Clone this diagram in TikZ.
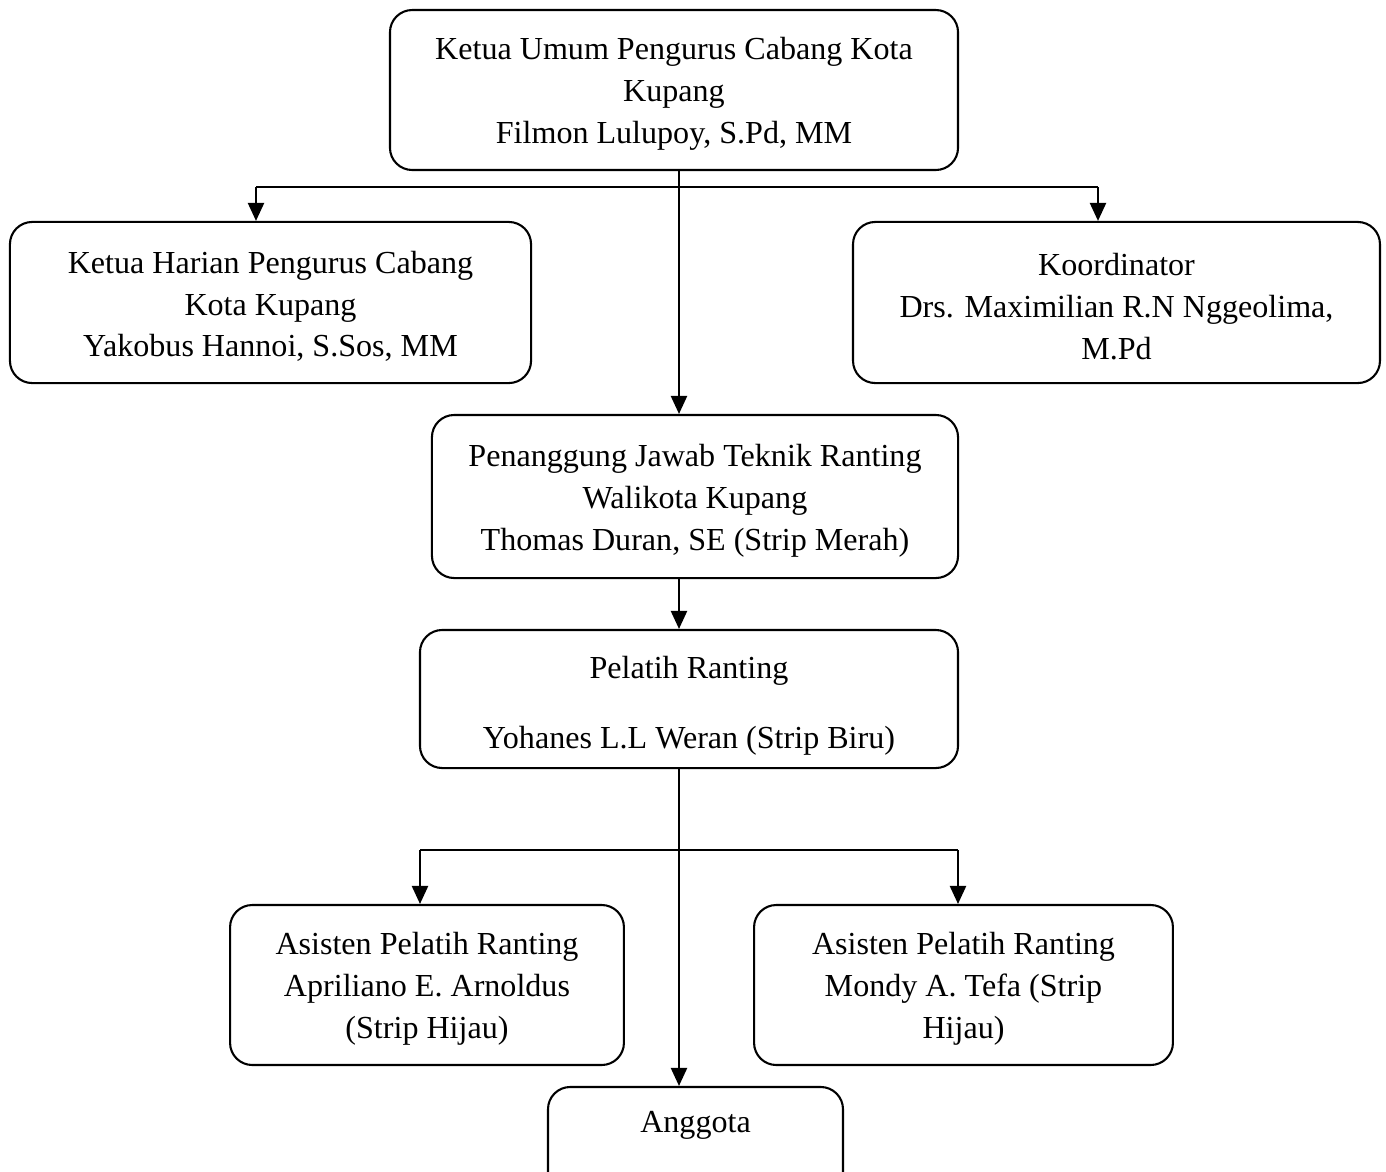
\documentclass[tikz,border=0pt]{standalone}
\usepackage{fontspec}
\setmainfont{Liberation Serif}
\usepackage{tikz}
\usetikzlibrary{positioning,arrows.meta}

\begin{document}
\begin{tikzpicture}[x=0.36pt,y=-0.36pt,>={Triangle[length=6.5pt,width=5.8pt]},
                    line width=0.75pt]
  \tikzstyle{box}=[draw=black,rounded corners=8pt,align=center,
                   inner sep=0pt,font=\fontsize{11.55pt}{15.1pt}\selectfont,
                   text height=41pt]

  \useasboundingbox (0,0) rectangle (1386,1171);

  \node[box,minimum width=204.5pt,minimum height=57.6pt] (ketua)   at (674,90)
       {Ketua Umum Pengurus Cabang Kota\\Kupang\\Filmon Lulupoy, S.Pd, MM};
  \node[box,minimum width=187.6pt,minimum height=58pt]   (harian)  at (270.5,302.5)
       {Ketua Harian Pengurus Cabang\\Kota Kupang\\Yakobus Hannoi, S.Sos, MM};
  \node[box,minimum width=189.7pt,minimum height=58pt]   (koord)   at (1116.5,302.5)
       {Koordinator\\Drs. Maximilian R.N Nggeolima,\\M.Pd};
  \node[box,minimum width=189.4pt,minimum height=58.7pt] (pj)      at (695,496.5)
       {Penanggung Jawab Teknik Ranting\\Walikota Kupang\\Thomas Duran, SE (Strip Merah)};
  \node[box,minimum width=193.7pt,minimum height=49.7pt,text height=38.4pt] (pelatih) at (689,699)
       {Pelatih Ranting\\[10.4pt]Yohanes L.L Weran (Strip Biru)};
  \node[box,minimum width=141.8pt,minimum height=57.6pt] (asistenA) at (427,985)
       {Asisten Pelatih Ranting\\Apriliano E. Arnoldus\\(Strip Hijau)};
  \node[box,minimum width=150.8pt,minimum height=57.6pt] (asistenB) at (963.5,985)
       {Asisten Pelatih Ranting\\Mondy A. Tefa (Strip\\Hijau)};
  \node[box,minimum width=106.2pt,minimum height=40.7pt,text height=26.6pt] (anggota) at (695.5,1143.5)
       {Anggota\\\strut};

  % branch points
  \coordinate (spine) at (679,187);
  \coordinate (forkL) at (256,187);
  \coordinate (forkR) at (1098,187);
  \coordinate (forkBL) at (420,850);
  \coordinate (forkBR) at (958,850);

  \draw[->] (ketua.south -| spine) -- (pj.north -| spine);
  \draw (forkL) -- (forkR);
  \draw[->] (forkL) -- (forkL |- harian.north);
  \draw[->] (forkR) -- (forkR |- koord.north);
  \draw[->] (pj.south -| spine) -- (pelatih.north -| spine);
  \draw[->] (pelatih.south -| spine) -- (anggota.north -| spine);
  \draw (forkBL) -- (forkBR);
  \draw[->] (forkBL) -- (forkBL |- asistenA.north);
  \draw[->] (forkBR) -- (forkBR |- asistenB.north);
\end{tikzpicture}
\end{document}
